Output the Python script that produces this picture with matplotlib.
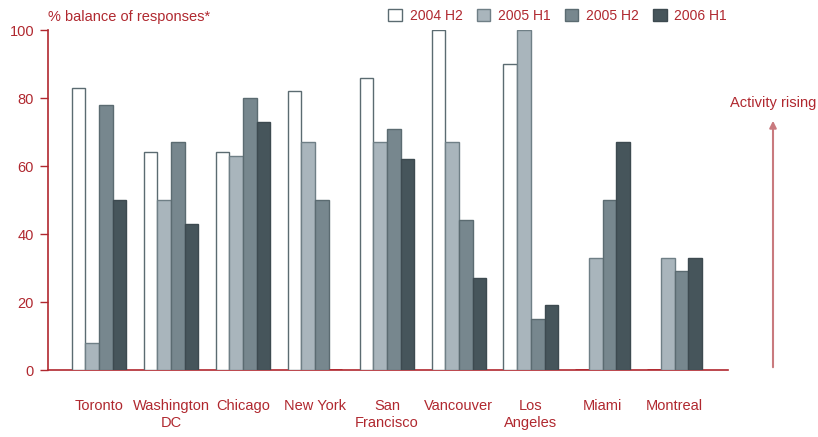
import matplotlib.pyplot as plt
from matplotlib.patches import FancyArrowPatch
import numpy as np

plt.rcParams['font.family'] = ['Liberation Sans', 'DejaVu Sans']

cities = ['Toronto', 'Washington\nDC', 'Chicago', 'New York', 'San\nFrancisco',
          'Vancouver', 'Los\nAngeles', 'Miami', 'Montreal']
periods = ['2004 H2', '2005 H1', '2005 H2', '2006 H1']

h2_2004 = [83, 64, 64, 82, 86, 100, 90, 0, 0]
h1_2005 = [8, 50, 63, 67, 67, 67, 100, 33, 33]
h2_2005 = [78, 67, 80, 50, 71, 44, 15, 50, 29]
h1_2006 = [50, 43, 73, 0, 62, 27, 19, 67, 33]

series = [h2_2004, h1_2005, h2_2005, h1_2006]
fills = ['#ffffff', '#a9b5bc', '#77878e', '#46555b']
edges = ['#5b6b71', '#6f7f86', '#5b6b71', '#3d4a50']
red = '#b0282f'

fig = plt.figure(figsize=(8.18, 4.37), dpi=100)
ax = fig.add_axes([48 / 818, 67 / 437, 680 / 818, 340 / 437])

x = np.arange(len(cities))
w = 0.19
for i, (vals, fc, ec, lab) in enumerate(zip(series, fills, edges, periods)):
    pos = x + (i - 1.5) * w
    # empty readings show as a short red stroke on the baseline
    edge_cols = [red if v == 0 else ec for v in vals]
    lws = [2.0 if v == 0 else 1.0 for v in vals]
    ax.bar(pos, vals, width=w, color=fc, edgecolor=edge_cols,
           linewidth=lws, label=lab, zorder=3)

ax.set_xlim(-0.71, 8.74)
ax.set_ylim(0, 100)
ax.set_yticks([0, 20, 40, 60, 80, 100])
ax.set_xticks(x)
ax.set_xticklabels(cities, fontsize=10.5, color=red, linespacing=1.25)
ax.tick_params(axis='x', length=0, pad=21)
ax.tick_params(axis='y', colors=red, labelsize=10.5, length=6, width=1, pad=4,
               direction='out')
for s in ['top', 'right']:
    ax.spines[s].set_visible(False)
for s in ['left', 'bottom']:
    ax.spines[s].set_color(red)
    ax.spines[s].set_linewidth(1.2)

fig.text(48 / 818, 1 - 17 / 437, '% balance of responses*', color=red,
         fontsize=10.5, va='center', ha='left')

leg = fig.legend(loc='center right', bbox_to_anchor=(727 / 818, 1 - 16 / 437),
                 ncol=4, frameon=False, fontsize=10, handlelength=1.0,
                 handleheight=1.0, handletextpad=0.55, columnspacing=1.0,
                 borderaxespad=0, borderpad=0)
for t in leg.get_texts():
    t.set_color(red)

# activity arrow on the right
fig.text(773 / 818, 1 - 103 / 437, 'Activity rising', color=red, fontsize=10.5,
         ha='center', va='center')
fig.patches.append(FancyArrowPatch(
    (773 / 818, 67 / 437), (773 / 818, 1 - 118 / 437),
    transform=fig.transFigure, arrowstyle='-|>', mutation_scale=10,
    color='#c97a7e', linewidth=1.5))

fig.savefig('out.png', dpi=100)
